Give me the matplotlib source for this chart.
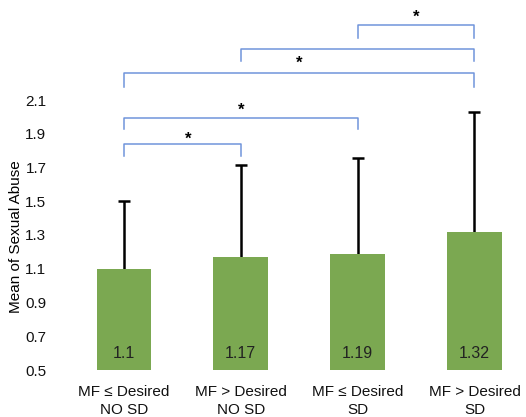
import matplotlib
matplotlib.use("Agg")
import matplotlib.pyplot as plt

plt.rcParams['font.family'] = ['Liberation Sans', 'DejaVu Sans']

categories = ["MF \u2264 Desired\nNO SD", "MF > Desired\nNO SD",
              "MF \u2264 Desired\nSD", "MF > Desired\nSD"]
means = [1.10, 1.17, 1.19, 1.32]
upper_err = [0.40, 0.545, 0.565, 0.71]
bar_labels = ["1.1", "1.17", "1.19", "1.32"]

# significance brackets: (left bar, right bar, line height, drop height)
brackets = [(0, 1, 1.84, 1.77), (0, 2, 1.995, 1.93), (0, 3, 2.258, 2.177),
            (1, 3, 2.40, 2.33), (2, 3, 2.544, 2.467)]
# star positions (x in bar units, y in data units)
stars_x = [0.55, 1.0, 1.5, 2.5]
stars_y = [1.865, 2.04, 2.315, 2.59]

fig = plt.figure(figsize=(5.26, 4.17), dpi=100)
W, H = 526, 417
ax = fig.add_axes([70 / W, (H - 370) / H, 450 / W, 370 / H])

x = range(len(categories))
ax.bar(x, means, width=0.47, color="#7BA851", zorder=2)
eb = ax.errorbar(x, means, yerr=[[0] * 4, upper_err], fmt="none",
                 ecolor="black", elinewidth=1.8, capsize=4, capthick=1.8, zorder=1)
eb[1][0].set_visible(False)  # no lower caps

for i, lab in enumerate(bar_labels):
    ax.text(i, 0.595, lab, ha="center", va="center", fontsize=11.5, color="#222222", zorder=3)

for a, b, top, drop in brackets:
    ax.plot([a, a, b, b], [drop, top, top, drop], color="#7094DB", lw=1.1, clip_on=False)

for sx, sy in zip(stars_x, stars_y):
    ax.text(sx, sy, "*", ha="center", va="center", fontsize=12, fontweight="bold")

ax.set_xlim(-0.462, 3.39)
ax.set_ylim(0.5, 0.5 + 370 / 168.75)
ax.set_yticks([0.5, 0.7, 0.9, 1.1, 1.3, 1.5, 1.7, 1.9, 2.1])
ax.set_yticklabels(["0.5", "0.7", "0.9", "1.1", "1.3", "1.5", "1.7", "1.9", "2.1"])
ax.set_xticks(list(x))
ax.set_xticklabels(categories, fontsize=11, linespacing=1.3)
ax.tick_params(axis="both", length=0, labelsize=11, colors="#111111")
ax.tick_params(axis="y", pad=17)
ax.tick_params(axis="x", pad=11)
for s in ax.spines.values():
    s.set_visible(False)
ax.set_ylabel("Mean of Sexual Abuse", fontsize=11)
ax.yaxis.set_label_coords(-0.105, 0.36)

fig.savefig("out.png", dpi=100)
